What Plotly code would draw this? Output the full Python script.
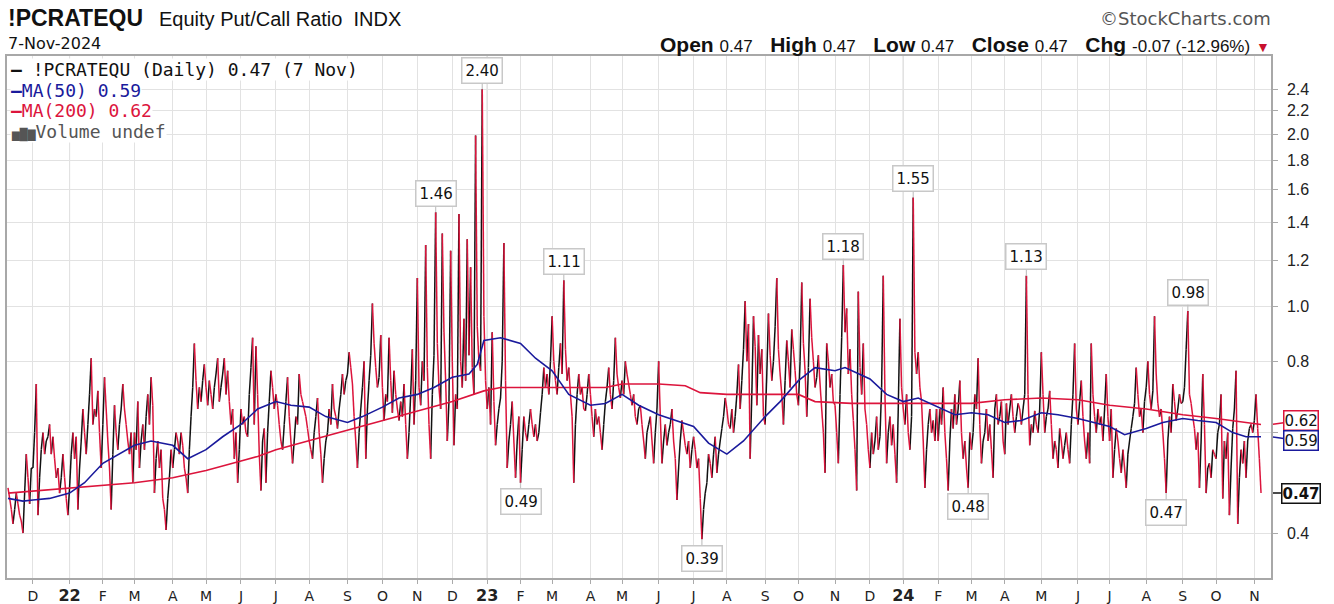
import numpy as np
import pandas as pd
import plotly.graph_objects as go

# ---------------- data ----------------
market_holidays = ["2021-11-25", "2021-12-24", "2022-01-17", "2022-02-21", "2022-04-15", "2022-05-30",
                   "2022-06-20", "2022-07-04", "2022-09-05", "2022-11-24", "2022-12-26", "2023-01-02",
                   "2023-01-16", "2023-02-20", "2023-04-07", "2023-05-29", "2023-06-19", "2023-07-04",
                   "2023-09-04", "2023-11-23", "2023-12-25", "2024-01-01", "2024-01-15", "2024-02-19",
                   "2024-03-29", "2024-05-27", "2024-06-19", "2024-07-04", "2024-09-02"]
start_date = "2021-11-09"
end_date = "2024-11-07"

# daily equity put/call ratio (one row per month)
pcr_2021 = [
    0.48, 0.46, 0.44, 0.415, 0.44, 0.47, 0.45, 0.43, 0.42, 0.40, 0.47, 0.55, 0.50, 0.45, 0.52,
    0.52, 0.60, 0.73, 0.43, 0.50, 0.56, 0.60, 0.55, 0.58, 0.59, 0.62, 0.55, 0.59, 0.54, 0.50, 0.52, 0.47, 0.50, 0.55, 0.50, 0.46, 0.43,
]
pcr_2022 = [
    0.48, 0.55, 0.60, 0.54, 0.59, 0.44, 0.52, 0.58, 0.66, 0.60, 0.55, 0.62, 0.70, 0.81, 0.62, 0.66, 0.64, 0.71, 0.60, 0.52,
    0.62, 0.75, 0.66, 0.58, 0.52, 0.44, 0.55, 0.67, 0.60, 0.56, 0.62, 0.66, 0.73, 0.66, 0.62, 0.58, 0.55, 0.60, 0.49,
    0.60, 0.56, 0.68, 0.52, 0.58, 0.62, 0.56, 0.64, 0.70, 0.62, 0.75, 0.67, 0.47, 0.54, 0.58, 0.52, 0.56, 0.46, 0.44, 0.405, 0.46, 0.50, 0.56,
    0.52, 0.56, 0.60, 0.58, 0.55, 0.60, 0.57, 0.52, 0.50, 0.47, 0.56, 0.64, 0.72, 0.86, 0.74, 0.66, 0.72, 0.68, 0.74, 0.79,
    0.72, 0.67, 0.74, 0.70, 0.66, 0.72, 0.76, 0.81, 0.68, 0.72, 0.76, 0.81, 0.70, 0.77, 0.68, 0.62, 0.66, 0.54, 0.60, 0.49, 0.56,
    0.66, 0.62, 0.64, 0.60, 0.59, 0.70, 0.78, 0.88, 0.62, 0.85, 0.70, 0.55, 0.475, 0.58, 0.61, 0.49, 0.60, 0.68, 0.77, 0.72, 0.66,
    0.70, 0.67, 0.62, 0.58, 0.56, 0.62, 0.68, 0.75, 0.64, 0.58, 0.53, 0.58, 0.64, 0.62, 0.76, 0.70, 0.68, 0.66, 0.64, 0.61,
    0.58, 0.56, 0.54, 0.60, 0.64, 0.69, 0.60, 0.55, 0.49, 0.54, 0.58, 0.60, 0.66, 0.62, 0.73, 0.66, 0.64, 0.61, 0.66, 0.70, 0.76, 0.70, 0.74,
    0.76, 0.83, 0.78, 0.73, 0.64, 0.58, 0.52, 0.60, 0.66, 0.72, 0.80, 0.54, 0.66, 0.74, 0.82, 1.01, 0.86, 0.78, 0.72, 0.75, 0.89,
    0.72, 0.63, 0.70, 0.68, 0.88, 0.74, 0.65, 0.77, 0.70, 0.66, 0.63, 0.68, 0.64, 0.73, 0.62, 0.54, 0.60, 0.70, 0.84, 0.62, 0.74,
    1.12, 0.72, 0.67, 0.80, 0.74, 1.28, 0.78, 0.62, 0.54, 0.70, 0.82, 1.46, 0.86, 0.72, 0.66, 1.34, 0.90, 0.74, 0.58, 0.68, 1.25,
    0.80, 0.57, 0.70, 0.66, 1.45, 0.80, 0.72, 0.95, 0.74, 1.31, 0.82, 1.17, 0.78, 0.70, 1.99, 0.92, 0.80, 0.77, 2.40, 0.96, 0.74,
]
pcr_2023 = [
    0.66, 0.72, 0.62, 0.90, 0.68, 0.57, 0.62, 0.66, 0.69, 0.80, 1.29, 0.74, 0.52, 0.58, 0.62, 0.68, 0.58, 0.50, 0.58, 0.64,
    0.49, 0.56, 0.64, 0.60, 0.58, 0.62, 0.66, 0.62, 0.59, 0.62, 0.58, 0.60, 0.65, 0.70, 0.78, 0.72, 0.76, 0.70, 0.80,
    0.96, 0.80, 0.74, 0.70, 0.78, 0.86, 0.76, 1.11, 0.84, 0.74, 0.78, 0.70, 0.64, 0.49, 0.62, 0.70, 0.76, 0.70, 0.72, 0.66, 0.655, 0.70, 0.76,
    0.70, 0.64, 0.59, 0.66, 0.62, 0.64, 0.60, 0.56, 0.62, 0.68, 0.72, 0.78, 0.70, 0.66, 0.74, 0.88, 0.76, 0.72, 0.69,
    0.74, 0.70, 0.80, 0.76, 0.73, 0.70, 0.67, 0.70, 0.64, 0.62, 0.66, 0.67, 0.62, 0.58, 0.54, 0.60, 0.62, 0.64, 0.58, 0.53, 0.60, 0.66,
    0.80, 0.64, 0.53, 0.58, 0.62, 0.57, 0.60, 0.62, 0.66, 0.58, 0.54, 0.457, 0.52, 0.58, 0.63, 0.60, 0.57, 0.55, 0.58, 0.52, 0.56,
    0.59, 0.56, 0.52, 0.54, 0.46, 0.39, 0.44, 0.47, 0.49, 0.55, 0.53, 0.50, 0.55, 0.59, 0.51, 0.55, 0.58, 0.61, 0.64, 0.69,
    0.66, 0.62, 0.61, 0.66, 0.60, 0.64, 0.70, 0.79, 0.66, 0.74, 0.84, 1.02, 0.80, 0.93, 0.54, 0.70, 0.96, 0.85, 0.67, 0.89, 0.76, 0.84, 0.64,
    0.62, 0.76, 0.97, 0.82, 0.74, 0.80, 0.92, 1.12, 0.84, 0.76, 0.70, 0.62, 0.74, 0.87, 0.80, 0.72, 0.91, 0.84, 0.77, 0.70,
    0.67, 0.80, 1.10, 0.86, 0.77, 0.64, 0.78, 1.03, 0.88, 0.80, 0.72, 0.75, 0.82, 0.73, 0.66, 0.60, 0.51, 0.86, 0.80, 0.72, 0.76, 0.68,
    0.67, 0.60, 0.53, 0.70, 0.88, 1.18, 0.90, 0.99, 0.76, 0.84, 0.70, 0.63, 0.56, 0.475, 1.06, 0.78, 0.70, 0.86, 0.66, 0.62, 0.56,
    0.52, 0.60, 0.55, 0.58, 0.64, 0.56, 0.59, 0.72, 1.13, 0.70, 0.53, 0.60, 0.64, 0.57, 0.62, 0.55, 0.49, 0.66, 0.95, 0.72,
]
pcr_2024 = [
    0.66, 0.62, 0.70, 0.60, 0.56, 0.64, 1.55, 0.83, 0.76, 0.83, 0.72, 0.68, 0.58, 0.48, 0.56, 0.62, 0.66, 0.60, 0.63, 0.58, 0.66,
    0.58, 0.66, 0.62, 0.72, 0.60, 0.54, 0.475, 0.58, 0.66, 0.61, 0.70, 0.62, 0.66, 0.74, 0.60, 0.54, 0.58, 0.52, 0.48, 0.60,
    0.56, 0.60, 0.70, 0.66, 0.81, 0.62, 0.53, 0.58, 0.60, 0.66, 0.58, 0.62, 0.56, 0.50, 0.66, 0.70, 0.62, 0.64, 0.68, 0.58,
    0.55, 0.675, 0.62, 0.66, 0.70, 0.64, 0.60, 0.64, 0.675, 0.66, 0.62, 0.66, 0.70, 1.13, 0.70, 0.57, 0.62, 0.60, 0.655, 0.62, 0.60, 0.66,
    0.83, 0.70, 0.60, 0.64, 0.66, 0.71, 0.62, 0.54, 0.58, 0.56, 0.52, 0.61, 0.58, 0.54, 0.57, 0.60, 0.56, 0.53, 0.62, 0.70, 0.86, 0.66,
    0.62, 0.68, 0.74, 0.64, 0.58, 0.54, 0.60, 0.53, 0.86, 0.70, 0.64, 0.60, 0.66, 0.62, 0.64, 0.58, 0.66, 0.76, 0.64,
    0.58, 0.66, 0.50, 0.56, 0.61, 0.58, 0.54, 0.51, 0.56, 0.52, 0.48, 0.55, 0.58, 0.61, 0.64, 0.675, 0.78, 0.70, 0.64, 0.66, 0.60, 0.68,
    0.72, 0.80, 0.70, 0.66, 0.71, 0.96, 0.76, 0.675, 0.64, 0.66, 0.60, 0.54, 0.47, 0.58, 0.64, 0.60, 0.73, 0.68, 0.63, 0.66, 0.70, 0.675,
    0.68, 0.72, 0.84, 0.98, 0.70, 0.675, 0.64, 0.61, 0.56, 0.60, 0.48, 0.58, 0.76, 0.62, 0.47, 0.52, 0.53, 0.50, 0.56, 0.55,
    0.54, 0.60, 0.62, 0.70, 0.46, 0.58, 0.54, 0.60, 0.43, 0.52, 0.61, 0.66, 0.77, 0.415, 0.50, 0.56, 0.53, 0.58, 0.50, 0.58, 0.61, 0.62, 0.60,
    0.63, 0.70, 0.61, 0.54, 0.47,
]

# moving averages
ma50_dates = ["2021-11-09", "2021-11-22", "2021-12-01", "2021-12-15", "2022-01-03", "2022-01-14", "2022-02-01",
              "2022-02-15", "2022-03-01", "2022-03-15", "2022-04-01", "2022-04-14", "2022-05-02", "2022-05-16",
              "2022-06-01", "2022-06-15", "2022-07-01", "2022-07-15", "2022-08-01", "2022-08-15", "2022-09-01",
              "2022-09-15", "2022-10-03", "2022-10-17", "2022-11-01", "2022-11-15", "2022-12-01", "2022-12-15",
              "2022-12-22", "2022-12-29", "2023-01-13", "2023-02-01", "2023-02-14", "2023-03-01", "2023-03-15",
              "2023-04-03", "2023-04-17", "2023-05-01", "2023-05-15", "2023-06-01", "2023-06-15", "2023-07-03",
              "2023-07-17", "2023-08-01", "2023-08-15", "2023-09-01", "2023-09-15", "2023-10-02", "2023-10-16",
              "2023-11-01", "2023-11-09", "2023-12-01", "2023-12-15", "2024-01-02", "2024-01-16", "2024-02-01",
              "2024-02-15", "2024-03-01", "2024-03-15", "2024-04-01", "2024-04-15", "2024-05-01", "2024-05-15",
              "2024-06-03", "2024-06-14", "2024-07-01", "2024-07-15", "2024-08-01", "2024-08-15", "2024-09-03",
              "2024-09-16", "2024-10-01", "2024-10-15", "2024-10-25", "2024-11-07"]
ma50_vals = [0.46, 0.455, 0.457, 0.46, 0.47, 0.49, 0.53,
             0.55, 0.57, 0.58, 0.57, 0.54, 0.56, 0.59,
             0.62, 0.66, 0.68, 0.67, 0.665, 0.64, 0.625,
             0.64, 0.665, 0.69, 0.70, 0.72, 0.75, 0.76,
             0.79, 0.87, 0.88, 0.86, 0.81, 0.77, 0.70,
             0.67, 0.675, 0.70, 0.67, 0.645, 0.63, 0.615,
             0.575, 0.55, 0.58, 0.64, 0.68, 0.74, 0.78,
             0.77, 0.78, 0.745, 0.70, 0.68, 0.69, 0.665,
             0.645, 0.65, 0.645, 0.625, 0.63, 0.65, 0.645,
             0.635, 0.625, 0.615, 0.595, 0.61, 0.625, 0.635,
             0.63, 0.625, 0.60, 0.59, 0.59]
ma200_dates = ["2021-11-09", "2022-01-03", "2022-03-01", "2022-04-01", "2022-05-02", "2022-06-01", "2022-06-15",
               "2022-07-01", "2022-08-05", "2022-09-01", "2022-10-03", "2022-11-01", "2022-12-01", "2022-12-29",
               "2023-01-13", "2023-03-01", "2023-04-17", "2023-05-01", "2023-06-01", "2023-06-26", "2023-07-10",
               "2023-08-01", "2023-10-02", "2023-10-16", "2023-11-15", "2024-01-02", "2024-03-01", "2024-04-01",
               "2024-05-01", "2024-06-03", "2024-07-01", "2024-08-01", "2024-09-03", "2024-10-01", "2024-11-07"]
ma200_vals = [0.47, 0.48, 0.49, 0.50, 0.515, 0.535, 0.545,
              0.56, 0.585, 0.605, 0.63, 0.655, 0.68, 0.71,
              0.72, 0.72, 0.72, 0.73, 0.73, 0.725, 0.705,
              0.70, 0.70, 0.68, 0.675, 0.675, 0.675, 0.685,
              0.69, 0.685, 0.67, 0.66, 0.645, 0.635, 0.62]

peak_dates = ["2022-11-16", "2022-12-28", "2023-03-10", "2023-11-08", "2024-01-10", "2024-04-18", "2024-09-06"]
trough_dates = ["2023-02-01", "2023-07-11", "2024-02-28", "2024-08-19"]
month_letters = ["J", "F", "M", "A", "M", "J", "J", "A", "S", "O", "N", "D"]
y_ticks = [0.4, 0.6, 0.8, 1.0, 1.2, 1.4, 1.6, 1.8, 2.0, 2.2, 2.4]

# ---------------- build ----------------
values = pcr_2021 + pcr_2022 + pcr_2023 + pcr_2024
cbd = pd.offsets.CustomBusinessDay(holidays=market_holidays)
dates = pd.date_range(start_date, end_date, freq=cbd)
n = min(len(dates), len(values))
dates = dates[:n]
values = values[:n]


def pos_of(d):
    return int(min(dates.searchsorted(pd.Timestamp(d)), n - 1))


RED = "#dc143c"
BLUE = "#1a1a9c"
BLACK = "#111111"

ux, uy, dx, dy = [], [], [], []
for i in range(1, n):
    if values[i] >= values[i - 1]:
        ux += [i - 1, i, None]
        uy += [values[i - 1], values[i], None]
    else:
        dx += [i - 1, i, None]
        dy += [values[i - 1], values[i], None]

fig = go.Figure()
fig.add_trace(go.Scatter(x=ux, y=uy, mode="lines", line=dict(color=BLACK, width=1.5), hoverinfo="skip"))
fig.add_trace(go.Scatter(x=dx, y=dy, mode="lines", line=dict(color=RED, width=1.5), hoverinfo="skip"))
fig.add_trace(go.Scatter(x=[pos_of(d) for d in ma200_dates], y=ma200_vals, mode="lines",
                         line=dict(color=RED, width=1.6), hoverinfo="skip"))
fig.add_trace(go.Scatter(x=[pos_of(d) for d in ma50_dates], y=ma50_vals, mode="lines",
                         line=dict(color=BLUE, width=1.6), hoverinfo="skip"))

# month ticks
tick_idx, tick_txt, year_idx = [], [], []
prev = (dates[0].year, dates[0].month)
for i, d in enumerate(dates):
    key = (d.year, d.month)
    if key != prev:
        tick_idx.append(i)
        if d.month == 1:
            tick_txt.append("<b><span style='font-size:16px'>%02d</span></b>" % (d.year % 100))
            year_idx.append(i)
        else:
            tick_txt.append(month_letters[d.month - 1])
    prev = key

shapes = []
for i in year_idx:
    shapes.append(dict(type="line", x0=i, x1=i, y0=0, y1=1, xref="x", yref="paper",
                       line=dict(color="#b5b5b5", width=1), layer="below"))

ann = []
LBL_FONT = dict(family="DejaVu Sans", size=15, color="#111")


def callout(d, up):
    c = pos_of(d)
    lo, hi = max(0, c - 3), min(n, c + 4)
    seg = values[lo:hi]
    j = lo + (int(np.argmax(seg)) if up else int(np.argmin(seg)))
    v = values[j]
    ann.append(dict(x=j, y=np.log10(v), xref="x", yref="y", text="%.2f" % v, showarrow=True,
                    arrowhead=0, arrowwidth=1.2, arrowcolor="#c4c4c4", ax=0, ay=-19 if up else 19,
                    standoff=0, bgcolor="white", bordercolor="#c8c8c8", borderwidth=1.5, borderpad=3,
                    font=LBL_FONT))


for d in peak_dates:
    callout(d, True)
for d in trough_dates:
    callout(d, False)

# right-side value tags
last = values[-1]
prevv = values[-2]
for v, col, bold, ys in [(ma200_vals[-1], RED, False, -4), (ma50_vals[-1], BLUE, False, 4),
                         (last, BLACK, True, 0)]:
    ann.append(dict(x=1, y=np.log10(v), xref="paper", yref="y",
                    text=("<b>%.2f</b>" % v) if bold else "%.2f" % v, showarrow=True, arrowhead=0,
                    arrowwidth=1.5, arrowcolor=col, ax=30, ay=ys, standoff=2, bgcolor="white",
                    bordercolor=col, borderwidth=1.5, borderpad=0,
                    font=dict(family="DejaVu Sans", size=15, color=BLACK)))


def px_x(px):
    return (px - 7) / 1264.0


def px_y(py):
    return (578 - py) / 522.0


# header
ann.append(dict(x=px_x(6), y=px_y(18), xref="paper", yref="paper", xanchor="left", yanchor="middle",
                text="<b>!PCRATEQU</b>", showarrow=False,
                font=dict(family="Liberation Sans", size=23, color="#111")))
ann.append(dict(x=px_x(157), y=px_y(19), xref="paper", yref="paper", xanchor="left", yanchor="middle",
                text="Equity Put/Call Ratio\u00a0\u00a0INDX", showarrow=False,
                font=dict(family="Liberation Sans", size=20, color="#111")))
ann.append(dict(x=px_x(6), y=px_y(43), xref="paper", yref="paper", xanchor="left", yanchor="middle",
                text=dates[-1].strftime("%-d-%b-%Y"), showarrow=False,
                font=dict(family="DejaVu Sans", size=16, color="#111")))
ann.append(dict(x=px_x(1273), y=px_y(18), xref="paper", yref="paper", xanchor="right", yanchor="middle",
                text="\u00a9StockCharts.com", showarrow=False,
                font=dict(family="DejaVu Sans", size=18, color="#555")))
chg = last - prevv
pct = chg / prevv * 100
sp = "\u00a0\u00a0\u00a0"
vs = "<span style='font-size:17px'>%s</span>"
ohlc = ("<b>Open</b> " + vs % ("%.2f" % last) + sp +
        "<b>High</b> " + vs % ("%.2f" % last) + sp +
        "<b>Low</b> " + vs % ("%.2f" % last) + sp +
        "<b>Close</b> " + vs % ("%.2f" % last) + sp +
        "<b>Chg</b> " + vs % ("%.2f (%.2f%%)" % (chg, pct)) +
        " <span style='color:#c8102e;font-size:14px'>\u25bc</span>")
ann.append(dict(x=px_x(1272), y=px_y(44), xref="paper", yref="paper", xanchor="right", yanchor="middle",
                text=ohlc, showarrow=False, font=dict(family="Liberation Sans", size=21, color="#111")))

# legend rows
LEG_FONT = dict(family="DejaVu Sans Mono", size=18, color="#111")
leg_rows = [
    (69, "<span style='color:%s'><b>\u2014</b></span> !PCRATEQU (Daily) %.2f (%s)" % (
        BLACK, last, dates[-1].strftime("%-d %b"))),
    (90, "<span style='color:%s'><b>\u2014</b>MA(50) %.2f</span>" % (BLUE, ma50_vals[-1])),
    (110, "<span style='color:%s'><b>\u2014</b>MA(200) %.2f</span>" % (RED, ma200_vals[-1])),
    (131, "<span style='color:#555'><span style='font-size:13px'>\u2585\u2587\u2586</span>Volume undef</span>"),
]
for py, txt in leg_rows:
    ann.append(dict(x=px_x(10), y=px_y(py), xref="paper", yref="paper", xanchor="left", yanchor="middle",
                    text=txt, showarrow=False, bgcolor="white", borderpad=0, font=LEG_FONT))

fig.update_layout(
    width=1334, height=604,
    margin=dict(l=7, r=63, t=56, b=26, autoexpand=False),
    paper_bgcolor="white", plot_bgcolor="white",
    showlegend=False, hovermode=False,
    shapes=shapes, annotations=ann,
    font=dict(family="Liberation Sans", color="#222"),
)
fig.update_xaxes(range=[-0.6, 759], tickmode="array", tickvals=tick_idx, ticktext=tick_txt,
                 showgrid=True, gridcolor="#e2e2e2", gridwidth=1, zeroline=False, automargin=False,
                 ticks="outside", ticklen=4, tickcolor="#aaaaaa",
                 showline=True, linecolor="#a8a8a8", linewidth=1.5, mirror=True,
                 tickfont=dict(family="DejaVu Sans", size=14, color="#222"))
fig.update_yaxes(type="log", range=[np.log10(0.3336), np.log10(2.744)], side="right",
                 tickmode="array", tickvals=y_ticks,
                 ticktext=["" if abs(t - 0.6) < 1e-9 else "%.1f" % t for t in y_ticks],
                 showgrid=True, gridcolor="#e2e2e2", gridwidth=1, zeroline=False, automargin=False,
                 ticks="outside", ticklen=5, tickcolor="#aaaaaa", ticklabelstandoff=6,
                 showline=True, linecolor="#a8a8a8", linewidth=1.5, mirror=True,
                 tickfont=dict(family="Liberation Sans", size=16, color="#222"))

fig.write_html("out.html", config={"displayModeBar": False},
               post_script="document.body.style.margin='0';")
